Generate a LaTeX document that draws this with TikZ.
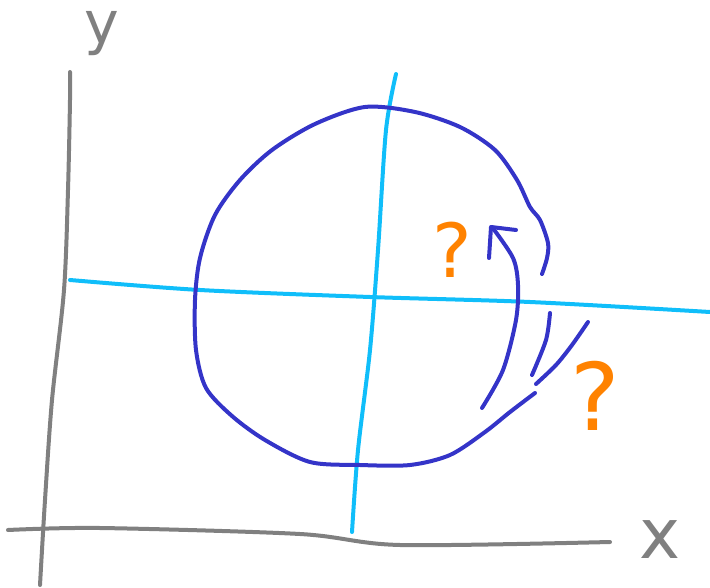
\documentclass[tikz,border=0pt]{standalone}
\usepackage{fontspec}
\setmainfont{DejaVu Sans}
\begin{document}
\begin{tikzpicture}[x=0.75pt,y=-0.75pt,
  pen/.style={line width=3pt,line cap=round,line join=round},
  axis/.style={pen,draw=axisgray},
  guide/.style={pen,draw=guideblue},
  loop/.style={pen,draw=loopblue},
  qmark/.style={text=qorange,anchor=base,inner sep=0pt},
  axlabel/.style={text=axisgray,anchor=base,inner sep=0pt}]
\definecolor{axisgray}{RGB}{128,128,128}
\definecolor{guideblue}{RGB}{16,190,250}
\definecolor{loopblue}{RGB}{52,52,200}
\definecolor{qorange}{RGB}{255,130,0}
\useasboundingbox (0,0) rectangle (710,588);
% axes
\draw[axis] plot[smooth] coordinates {(70,72) (70,100) (68,190) (64,290) (52,400) (45,500) (40,585)};
\draw[axis] plot[smooth] coordinates {(8,530) (100,528) (300,534) (400,545) (610,542)};
\node[axlabel,font=\fontsize{44}{44}\selectfont] (ylab) at (102,44) {y};
\node[axlabel,font=\fontsize{52}{52}\selectfont] (xlab) at (660,558) {x};
% guide lines
\draw[guide] plot[smooth] coordinates {(70,280) (200,290) (370,297) (530,302) (710,312)};
\draw[guide] plot[smooth] coordinates {(396,74) (386,130) (378,250) (370,350) (358,450) (352,532)};
% circle
\draw[loop] plot[smooth] coordinates {(542,274) (547,258) (548,243) (540,220) (530,207) (517,180) (495,150) (460,127) (415,112) (365,107) (315,124) (272,150) (240,180) (215,215) (200,258) (195,300) (196,350) (206,388) (232,416) (265,440) (310,462) (360,465) (410,465) (450,455) (485,432) (510,412) (535,393)};
% extra strokes
\draw[loop] plot[smooth] coordinates {(550,313) (546,340) (532,375)};
\draw[loop] plot[smooth] coordinates {(536,384) (556,365) (572,345) (588,322)};
% arrow
\draw[loop] plot[smooth] coordinates {(482,408) (503,370) (516,320) (518,285) (513,258) (492,227)};
\draw[loop] plot coordinates {(489,258) (491,227) (516,230)};
% question marks
\node[qmark,font=\fontsize{56}{56}\selectfont] (q1) at (452,277) {?};
\node[qmark,font=\fontsize{70}{70}\selectfont] (q2) at (595,430) {?};
\end{tikzpicture}
\end{document}
